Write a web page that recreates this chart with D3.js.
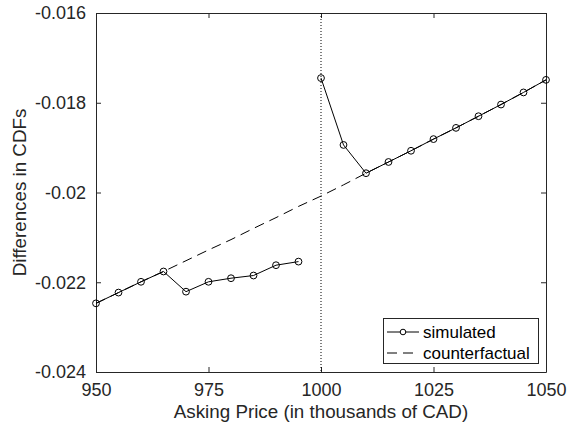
<!DOCTYPE html>
<html>
<head>
<meta charset="utf-8">
<script src="https://cdn.jsdelivr.net/npm/d3@7"></script>
<style>
  body { margin: 0; background: #fff; }
  svg { display: block; font-family: "Liberation Sans", Arial, sans-serif; }
</style>
</head>
<body>
<div id="chart"></div>
<script>
// asking prices (thousands of CAD) and differences in CDFs
var priceLeft = [950, 955, 960, 965, 970, 975, 980, 985, 990, 995];
var simLeft = [-0.02247, -0.02223, -0.02199, -0.02176, -0.02221, -0.02199, -0.02191, -0.02185, -0.02162, -0.02154];
var priceRight = [1000, 1005, 1010, 1015, 1020, 1025, 1030, 1035, 1040, 1045, 1050];
var simRight = [-0.01745, -0.01894, -0.01957, -0.01932, -0.01907, -0.01881, -0.01856, -0.0183, -0.01804, -0.01777, -0.01749];
var priceCf = [950, 955, 960, 965, 970, 975, 980, 985, 990, 995, 1000, 1005, 1010, 1015, 1020, 1025, 1030, 1035, 1040, 1045, 1050];
var counterfactual = [-0.02247, -0.02223, -0.02199, -0.02176, -0.02152, -0.02128, -0.02105, -0.0208, -0.02056, -0.02031, -0.02008, -0.01983, -0.01957, -0.01932, -0.01907, -0.01881, -0.01856, -0.0183, -0.01804, -0.01777, -0.01749];
var cutoff = 1000;
var xTicks = [950, 975, 1000, 1025, 1050];
var yTicks = [-0.024, -0.022, -0.02, -0.018, -0.016];
var legendNames = ['simulated', 'counterfactual'];

var w = 577;
var h = 432;
var pLeft = 96, pRight = 546, pTop = 13, pBottom = 372;
var axisColor = '#262626';

var x = d3.scaleLinear().domain([950, 1050]).range([pLeft, pRight]);
var y = d3.scaleLinear().domain([-0.024, -0.016]).range([pBottom, pTop]);

var svg = d3.select('#chart')
  .append('svg')
  .attr('width', w)
  .attr('height', h);

svg.append('rect')
  .attr('x', pLeft).attr('y', pTop)
  .attr('width', pRight - pLeft).attr('height', pBottom - pTop)
  .attr('fill', '#fff');

//axes, ticks pointing inward on all four sides
var fmtY = function(d) { return String(+d.toFixed(3)); };
var axes = [
  svg.append('g').attr('transform', 'translate(0,' + pBottom + ')')
    .call(d3.axisBottom(x).tickValues(xTicks).tickFormat(d3.format('d')).tickSizeInner(-5).tickSizeOuter(0).tickPadding(11)),
  svg.append('g').attr('transform', 'translate(' + pLeft + ',0)')
    .call(d3.axisLeft(y).tickValues(yTicks).tickFormat(fmtY).tickSizeInner(-5).tickSizeOuter(0).tickPadding(10)),
  svg.append('g').attr('transform', 'translate(0,' + pTop + ')')
    .call(d3.axisTop(x).tickValues(xTicks).tickFormat('').tickSizeInner(-5).tickSizeOuter(0)),
  svg.append('g').attr('transform', 'translate(' + pRight + ',0)')
    .call(d3.axisRight(y).tickValues(yTicks).tickFormat('').tickSizeInner(-5).tickSizeOuter(0))
];
axes.forEach(function(g) {
  g.select('.domain').attr('stroke', axisColor).attr('stroke-width', 1);
  g.selectAll('.tick line').attr('stroke', axisColor).attr('stroke-width', 1);
  g.selectAll('.tick text').attr('fill', axisColor).style('font-size', '18px')
    .style('font-family', '"Liberation Sans", Arial, sans-serif');
});

//vertical dotted line at the cutoff
svg.append('line')
  .attr('x1', x(cutoff)).attr('x2', x(cutoff))
  .attr('y1', pTop).attr('y2', pBottom)
  .attr('stroke', '#000').attr('stroke-width', 1)
  .attr('stroke-dasharray', '1,2');

var line = d3.line()
  .x(function(d) { return x(d[0]); })
  .y(function(d) { return y(d[1]); });

//counterfactual dashed
svg.append('path')
  .datum(d3.zip(priceCf, counterfactual))
  .attr('d', line)
  .attr('fill', 'none')
  .attr('stroke', '#000')
  .attr('stroke-width', 1)
  .attr('stroke-dasharray', '10,6');

//simulated, two segments with circle markers
[d3.zip(priceLeft, simLeft), d3.zip(priceRight, simRight)].forEach(function(seg) {
  svg.append('path')
    .datum(seg)
    .attr('d', line)
    .attr('fill', 'none')
    .attr('stroke', '#000')
    .attr('stroke-width', 1);
  svg.selectAll(null)
    .data(seg)
    .enter()
    .append('circle')
    .attr('cx', function(d) { return x(d[0]); })
    .attr('cy', function(d) { return y(d[1]); })
    .attr('r', 3.4)
    .attr('fill', 'none')
    .attr('stroke', '#000')
    .attr('stroke-width', 1);
});

//axis labels
svg.append('text')
  .attr('x', (pLeft + pRight) / 2).attr('y', 418)
  .attr('text-anchor', 'middle')
  .attr('fill', axisColor)
  .style('font-size', '18.8px')
  .text('Asking Price (in thousands of CAD)');

svg.append('text')
  .attr('transform', 'translate(26,' + (pTop + pBottom) / 2 + ') rotate(-90)')
  .attr('text-anchor', 'middle')
  .attr('fill', axisColor)
  .style('font-size', '18.8px')
  .text('Differences in CDFs');

//legend
var lg = svg.append('g');
lg.append('rect')
  .attr('x', 383.5).attr('y', 318.5)
  .attr('width', 155).attr('height', 45)
  .attr('fill', '#fff')
  .attr('stroke', axisColor)
  .attr('stroke-width', 1);

var rows = [332, 353];
lg.append('line')
  .attr('x1', 387).attr('x2', 419).attr('y1', rows[0]).attr('y2', rows[0])
  .attr('stroke', '#000').attr('stroke-width', 1);
lg.append('circle')
  .attr('cx', 403).attr('cy', rows[0]).attr('r', 2.8)
  .attr('fill', '#fff').attr('stroke', '#000').attr('stroke-width', 1);
lg.append('line')
  .attr('x1', 387).attr('x2', 419).attr('y1', rows[1]).attr('y2', rows[1])
  .attr('stroke', '#000').attr('stroke-width', 1)
  .attr('stroke-dasharray', '10,6');

lg.selectAll('text.lab')
  .data(legendNames)
  .enter()
  .append('text')
  .attr('class', 'lab')
  .attr('x', 423)
  .attr('y', function(d, i) { return rows[i]; })
  .attr('dy', '0.35em')
  .attr('fill', '#000')
  .style('font-size', '17px')
  .text(function(d) { return d; });
</script>
</body>
</html>
